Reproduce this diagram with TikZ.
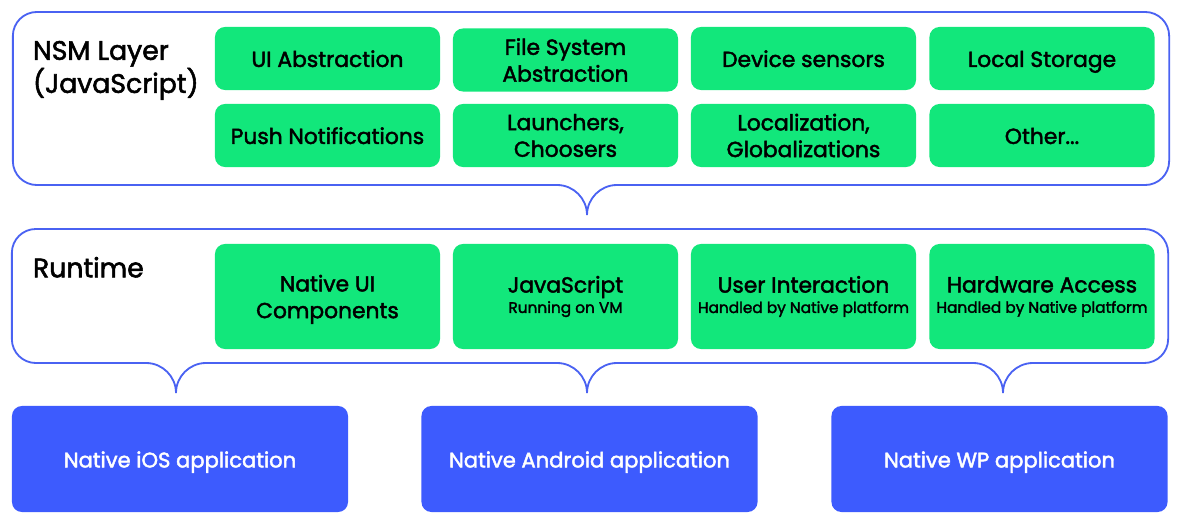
\documentclass[tikz,border=0pt]{standalone}
\usepackage{fontspec}
\setmainfont{Poppins}[RawFeature={embolden=2}]
\definecolor{green}{HTML}{12E77B}
\definecolor{blue}{HTML}{3D5BFE}
\definecolor{frameblue}{HTML}{4A62F2}
\newcommand{\subline}[1]{{\fontsize{10.9}{12}\selectfont #1}}

\begin{document}
\begin{tikzpicture}[x=0.025cm, y=-0.025cm,
		frame/.style={draw=frameblue, line width=1.3pt, rounded corners=0.6cm},
		tail/.style={draw=frameblue, line width=1.3pt},
		gbox/.style={fill=green, rounded corners=0.25cm, minimum width=5.625cm, minimum height=1.575cm, align=center, font=\fontsize{15.5}{19}\selectfont},
		single/.style={text height=1.3em, text depth=0.1em},
		rbox/.style={gbox, minimum height=2.625cm},
		abox/.style={fill=blue, text=white, rounded corners=0.25cm, minimum width=8.4cm, minimum height=2.65cm, single, font=\fontsize{15}{16}\selectfont},
		title/.style={anchor=north west, align=left, font=\fontsize{19}{23.5}\selectfont}]
		\useasboundingbox (0, 0) rectangle (1182, 525);
		
		\node[frame, minimum width=28.9cm, minimum height=4.325cm] (nsm) at (591, 98.5) {};
		\node[frame, minimum width=28.9cm, minimum height=3.35cm] (runtime) at (590, 296) {};
		
		\fill[white] (557, 182) rectangle (617, 188);
		\draw[tail] (557, 185) .. controls (573.5, 185) and (587, 198.5) .. (587, 215) .. controls (587, 198.5) and (600.5, 185) .. (617, 185);
		\foreach \x in {176, 587, 1003} {
			\fill[white] (\x-30, 360) rectangle (\x+30, 366);
			\draw[tail] (\x-30, 363) .. controls (\x-13.5, 363) and (\x, 376.5) .. (\x, 393) .. controls (\x, 376.5) and (\x+13.5, 363) .. (\x+30, 363);
		}
		
		\node[title] (nsmtitle) at (28, 36) {NSM Layer\\(JavaScript)};
		\node[title] (runtimetitle) at (28, 252) {Runtime};
		
		\node[gbox, single] (ui) at (327.5, 58.5) {UI Abstraction};
		\node[gbox] (files) at (565.5, 60) {File System\\Abstraction};
		\node[gbox, single] (sensors) at (803.5, 58.5) {Device sensors};
		\node[gbox, single] (storage) at (1042, 58.5) {Local Storage};
		\node[gbox, single] (push) at (327.5, 135.5) {Push Notifications};
		\node[gbox] (launchers) at (565.5, 135.5) {Launchers,\\Choosers};
		\node[gbox] (locale) at (803.5, 135.5) {Localization,\\Globalizations};
		\node[gbox, single] (other) at (1042, 135.5) {Other...};
		
		\node[rbox, text depth=0pt] (nativeui) at (327.5, 296.5) {Native UI\\Components};
		\node[rbox] (js) at (565.5, 296.5) {JavaScript\\[-4.5pt]\subline{Running on VM}};
		\node[rbox] (interaction) at (803.5, 296.5) {User Interaction\\[-4.5pt]\subline{Handled by Native platform}};
		\node[rbox] (hardware) at (1042, 296.5) {Hardware Access\\[-4.5pt]\subline{Handled by Native platform}};
		
		\node[abox] (ios) at (180, 459) {Native iOS application};
		\node[abox] (android) at (589.5, 459) {Native Android application};
		\node[abox] (wp) at (999.5, 459) {Native WP application};
	\end{tikzpicture}
\end{document}
